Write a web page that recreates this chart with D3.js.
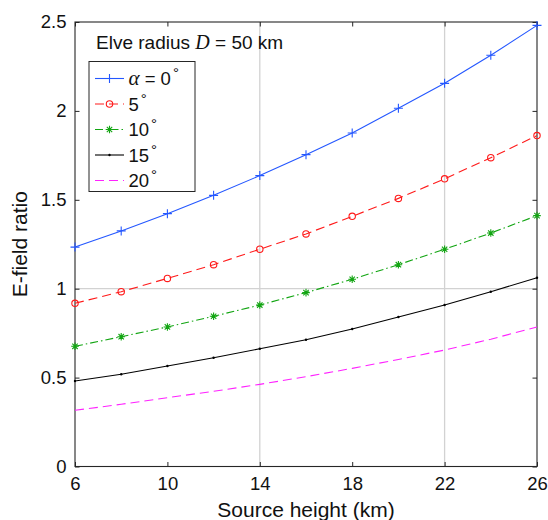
<!DOCTYPE html>
<html>
<head>
<meta charset="utf-8">
<script src="https://cdn.jsdelivr.net/npm/d3@7/dist/d3.min.js"></script>
<style>
  body { margin: 0; background: #fff; }
  text { font-family: "Liberation Sans", Arial, Helvetica, sans-serif; fill: #111; }
</style>
</head>
<body>
<svg id="chart" width="548" height="520"></svg>
<script>
// Source heights (km) sampled every 2 km
const heights = [6, 8, 10, 12, 14, 16, 18, 20, 22, 24, 26];

// E-field ratio for each elve tilt angle alpha
const ratioAlpha0  = [1.234, 1.325, 1.422, 1.525, 1.636, 1.754, 1.876, 2.015, 2.155, 2.313, 2.481];
const ratioAlpha5  = [0.918, 0.983, 1.058, 1.135, 1.222, 1.308, 1.407, 1.508, 1.618, 1.737, 1.861];
const ratioAlpha10 = [0.676, 0.730, 0.785, 0.845, 0.908, 0.978, 1.053, 1.135, 1.222, 1.313, 1.411];
const ratioAlpha15 = [0.481, 0.519, 0.565, 0.612, 0.662, 0.713, 0.773, 0.841, 0.908, 0.983, 1.062];
const ratioAlpha20 = [0.316, 0.350, 0.387, 0.423, 0.462, 0.505, 0.552, 0.602, 0.655, 0.716, 0.785];

const angleLabels = ["0", "5", "10", "15", "20"];
const xTicks = [6, 10, 14, 18, 22, 26];
const yTicks = [0, 0.5, 1, 1.5, 2, 2.5];
const xGridLines = [14, 22];
const yGridLines = [1];

const series = [
  { values: ratioAlpha0,  color: "#2457ff", dash: null,          marker: "plus" },
  { values: ratioAlpha5,  color: "#ff1a1a", dash: "9,5",         marker: "circle" },
  { values: ratioAlpha10, color: "#12a512", dash: "8,3,1.5,3",   marker: "star" },
  { values: ratioAlpha15, color: "#000000", dash: null,          marker: "dot" },
  { values: ratioAlpha20, color: "#ff22ff", dash: "9,5",         marker: null }
];

const svg = d3.select("#chart");
const L = 75, R = 537, T = 22, B = 466.5;

const x = d3.scaleLinear().domain([6, 26]).range([L, R]);
const y = d3.scaleLinear().domain([0, 2.5]).range([B, T]);

// light grid lines
svg.append("g").selectAll("line").data(xGridLines).join("line")
  .attr("x1", d => x(d)).attr("x2", d => x(d))
  .attr("y1", T).attr("y2", B)
  .attr("stroke", "#d2d2d2").attr("stroke-width", 1.3);
svg.append("g").selectAll("line").data(yGridLines).join("line")
  .attr("x1", L).attr("x2", R)
  .attr("y1", d => y(d)).attr("y2", d => y(d))
  .attr("stroke", "#d2d2d2").attr("stroke-width", 1.3);

// axes: ticks point inward on all four sides
const axisColor = "#262626";
function styleAxis(g) {
  g.select(".domain").remove();
  g.selectAll(".tick line").attr("stroke", axisColor).attr("stroke-width", 1);
  g.selectAll(".tick text").style("font-size", "18.5px").attr("fill", "#111");
}
svg.append("g").attr("transform", `translate(0,${B})`)
  .call(d3.axisBottom(x).tickValues(xTicks).tickSizeInner(-4.5).tickSizeOuter(0).tickPadding(10).tickFormat(d3.format("d")))
  .call(styleAxis);
svg.append("g").attr("transform", `translate(0,${T})`)
  .call(d3.axisTop(x).tickValues(xTicks).tickSizeInner(-4.5).tickSizeOuter(0).tickFormat(""))
  .call(styleAxis);
svg.append("g").attr("transform", `translate(${L},0)`)
  .call(d3.axisLeft(y).tickValues(yTicks).tickSizeInner(-4.5).tickSizeOuter(0).tickPadding(8.5).tickFormat(d => d3.format("")(d)))
  .call(styleAxis);
svg.append("g").attr("transform", `translate(${R},0)`)
  .call(d3.axisRight(y).tickValues(yTicks).tickSizeInner(-4.5).tickSizeOuter(0).tickFormat(""))
  .call(styleAxis);

svg.append("rect").attr("x", L).attr("y", T).attr("width", R - L).attr("height", B - T)
  .attr("fill", "none").attr("stroke", axisColor).attr("stroke-width", 1.1);

// marker drawing
function drawMarker(g, type, cx, cy, color) {
  if (type === "plus") {
    g.append("path").attr("d", `M${cx - 4.5},${cy}H${cx + 4.5}M${cx},${cy - 4.5}V${cy + 4.5}`)
      .attr("stroke", color).attr("stroke-width", 1.1).attr("fill", "none");
  } else if (type === "circle") {
    g.append("circle").attr("cx", cx).attr("cy", cy).attr("r", 3.2)
      .attr("stroke", color).attr("stroke-width", 1.1).attr("fill", "none");
  } else if (type === "star") {
    const a = 3.8, b = 2.7;
    g.append("path").attr("d",
      `M${cx - a},${cy}H${cx + a}M${cx},${cy - a}V${cy + a}M${cx - b},${cy - b}L${cx + b},${cy + b}M${cx - b},${cy + b}L${cx + b},${cy - b}`)
      .attr("stroke", color).attr("stroke-width", 1.1).attr("fill", "none");
  } else if (type === "dot") {
    g.append("circle").attr("cx", cx).attr("cy", cy).attr("r", 1.2).attr("fill", color);
  }
}

const line = d3.line().x((d, i) => x(heights[i])).y(d => y(d));
const plot = svg.append("g");
series.forEach(s => {
  plot.append("path").datum(s.values).attr("d", line)
    .attr("fill", "none").attr("stroke", s.color).attr("stroke-width", 1.1)
    .attr("stroke-dasharray", s.dash);
  if (s.marker) s.values.forEach((v, i) => drawMarker(plot, s.marker, x(heights[i]), y(v), s.color));
});

// annotation
const title = svg.append("text").attr("x", 96).attr("y", 49).style("font-size", "19px");
title.append("tspan").text("Elve radius ");
title.append("tspan").text("D").style("font-family", "'Liberation Serif', 'Times New Roman', serif").style("font-style", "italic").style("font-size", "20px");
title.append("tspan").text(" = 50 km");

// legend
const lg = svg.append("g");
lg.append("rect").attr("x", 89).attr("y", 61.5).attr("width", 106).attr("height", 130)
  .attr("fill", "#fff").attr("stroke", axisColor).attr("stroke-width", 1);
series.forEach((s, i) => {
  const cy = 78.5 + i * 25.5;
  lg.append("line").attr("x1", 95).attr("x2", 124).attr("y1", cy).attr("y2", cy)
    .attr("stroke", s.color).attr("stroke-width", 1.1).attr("stroke-dasharray", s.dash);
  if (s.marker) drawMarker(lg, s.marker, 109.5, cy, s.color);
  const t = lg.append("text").attr("x", 128.5).attr("y", cy + 6.5).style("font-size", "18.5px");
  if (i === 0) {
    t.append("tspan").text("α").style("font-family", "'Liberation Serif', 'Times New Roman', serif").style("font-style", "italic").style("font-size", "21px");
    t.append("tspan").text(" = " + angleLabels[i]);
  } else {
    t.append("tspan").text(angleLabels[i]);
  }
  t.append("tspan").text("°").attr("dx", 2).attr("dy", -7).style("font-size", "15px");
});

// axis titles
svg.append("text").attr("x", (L + R) / 2).attr("y", 517).attr("text-anchor", "middle")
  .style("font-size", "21px").text("Source height (km)");
svg.append("text").attr("transform", `translate(27,${(T + B) / 2}) rotate(-90)`)
  .attr("text-anchor", "middle").style("font-size", "21px").text("E-field ratio");
</script>
</body>
</html>
